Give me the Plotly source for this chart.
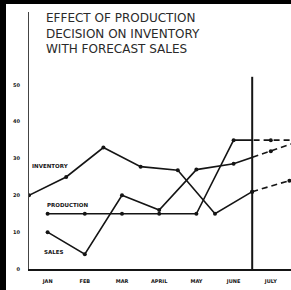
import plotly.graph_objects as go

# ---- data ----
months = ["JAN", "FEB", "MAR", "APRIL", "MAY", "JUNE", "JULY"]
month_pos = [1, 2, 3, 4, 5, 6, 7]

production_x = [1, 2, 3, 4, 5, 6, 7]
production = [1.5, 1.5, 1.5, 1.5, 1.5, 3.5, 3.5]
production_fc_x = [6, 7, 8]
production_fc = [3.5, 3.5, 3.5]

sales_x = [1, 2, 3, 4, 5, 6, 7]
sales = [1.0, 0.4, 2.0, 1.6, 2.7, 2.86, 3.2]
sales_fc_x = [6, 7, 8]
sales_fc = [2.86, 3.2, 3.55]

# inventory plotted at month ends
inventory_x = [0.5, 1.5, 2.5, 3.5, 4.5, 5.5, 6.5]
inventory = [2.0, 2.5, 3.3, 2.78, 2.68, 1.5, 2.1]
inventory_fc_x = [6.5, 7.5]
inventory_fc = [2.1, 2.4]

ytick_vals = [0, 1, 2, 3, 4, 5]
ytick_text = ["0", "10", "20", "30", "40", "50"]

title_lines = ["EFFECT OF PRODUCTION", "DECISION ON INVENTORY", "WITH FORECAST SALES"]

# ---- layout geometry ----
W, H = 291, 290
ML, MR, MT, MB = 29, 0, 12, 21
XMIN, XMAX = 0.5, 7.543
YMIN, YMAX = 0, 6.98
SPLIT = 6.5
split_frac = (SPLIT - XMIN) / (XMAX - XMIN)
pw, ph = W - ML - MR, H - MT - MB

INK = "#151515"
LW = 1.6
MS = 4

fig = go.Figure()

def solid(x, y, xa):
    fig.add_trace(go.Scatter(x=x, y=y, xaxis=xa, yaxis="y", mode="lines+markers",
                             line=dict(color=INK, width=LW),
                             marker=dict(color=INK, size=MS), showlegend=False,
                             hoverinfo="skip"))

def dashed(x, y, xa):
    fig.add_trace(go.Scatter(x=x, y=y, xaxis=xa, yaxis="y", mode="lines+markers",
                             line=dict(color=INK, width=LW, dash="6px,4px"),
                             marker=dict(color=INK, size=MS), showlegend=False,
                             hoverinfo="skip"))

# inventory on the full-width axis
solid(inventory_x, inventory, "x")
dashed(inventory_fc_x, inventory_fc, "x")
# actual (solid) part, clipped at the divider via x2 domain
solid(production_x, production, "x2")
solid(sales_x, sales, "x2")
# forecast (dashed) part, clipped left of the divider via x3 domain
dashed(production_fc_x, production_fc, "x3")
dashed(sales_fc_x, sales_fc, "x3")

tickfont = dict(family="DejaVu Sans", size=5, color=INK, weight="bold")

fig.update_layout(
    width=W, height=H,
    margin=dict(l=ML, r=MR, t=MT, b=MB, pad=0),
    paper_bgcolor="white", plot_bgcolor="rgba(0,0,0,0)",
    xaxis=dict(range=[XMIN, XMAX], domain=[0, 1], tickvals=month_pos, ticktext=months,
               showgrid=False, zeroline=False, showline=True, linecolor=INK, linewidth=2,
               ticks="", tickfont=tickfont, ticklabelstandoff=6, fixedrange=True),
    xaxis2=dict(range=[XMIN, SPLIT], domain=[0, split_frac], anchor="y", visible=False),
    xaxis3=dict(range=[SPLIT, XMAX], domain=[split_frac, 1], anchor="y", visible=False),
    yaxis=dict(range=[YMIN, YMAX], tickvals=ytick_vals, ticktext=ytick_text,
               showgrid=False, zeroline=False, showline=True, linecolor="#444", linewidth=1,
               ticks="", tickfont=tickfont, ticklabelstandoff=7),
)

# divider between actual and forecast
fig.add_shape(type="line", xref="x", yref="y", x0=SPLIT, x1=SPLIT, y0=0, y1=5.22,
              line=dict(color=INK, width=2))

# title
fig.add_annotation(xref="paper", yref="paper", x=(44 - ML) / pw, y=1.0, yshift=3,
                   xanchor="left", yanchor="top", align="left", showarrow=False,
                   text="<br>".join(title_lines),
                   font=dict(family="DejaVu Sans", size=12, color="#2a2a2a"))

# series labels
labfont = dict(family="DejaVu Sans", size=5.5, color=INK, weight="bold")
for txt, lx, ly in [("INVENTORY", 1.07, 2.8), ("PRODUCTION", 1.54, 1.74), ("SALES", 1.16, 0.46)]:
    fig.add_annotation(xref="x", yref="y", x=lx, y=ly, text=txt, showarrow=False,
                       font=labfont)

# scanned black border (left and top)
def px2paper_x(px):
    return (px - ML) / pw

def px2paper_y(py):
    return (H - MB - py) / ph

fig.add_shape(type="rect", xref="paper", yref="paper", layer="above",
              x0=px2paper_x(-2), x1=px2paper_x(6), y0=px2paper_y(H + 2), y1=px2paper_y(-2),
              fillcolor="black", line=dict(width=0))
fig.add_shape(type="rect", xref="paper", yref="paper", layer="above",
              x0=px2paper_x(-2), x1=px2paper_x(W + 2), y0=px2paper_y(4), y1=px2paper_y(-2),
              fillcolor="black", line=dict(width=0))

post = """
document.documentElement.style.margin='0';
document.body.style.margin='0';
document.body.style.padding='0';
['l','t'].forEach(function(k){
 var d=document.createElement('div');
 d.style.position='fixed'; d.style.left='0px'; d.style.top='0px';
 d.style.background='#000'; d.style.zIndex='99999'; d.style.pointerEvents='none';
 if(k==='l'){d.style.width='6px'; d.style.height='300px';}
 else {d.style.width='300px'; d.style.height='4px';}
 document.body.appendChild(d);
});
"""
fig.write_html("out.html", config={"displayModeBar": False}, post_script=post)
